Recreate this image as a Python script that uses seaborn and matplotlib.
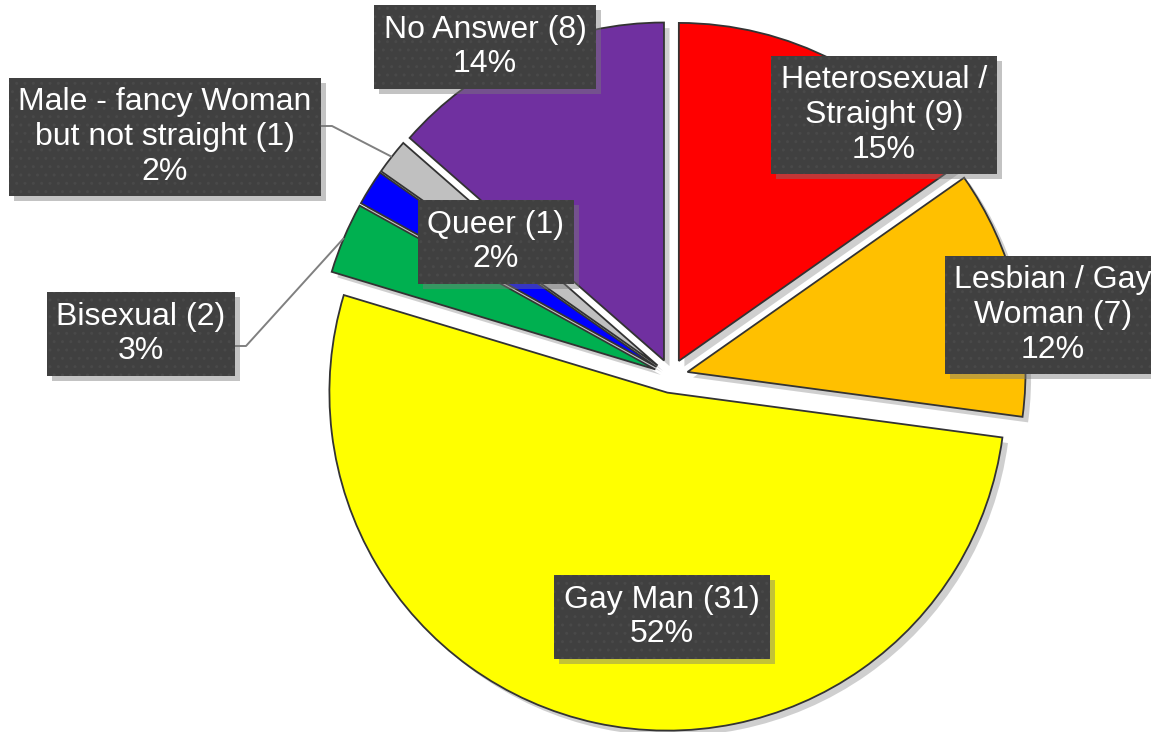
import numpy as np
import matplotlib
matplotlib.use("Agg")
import matplotlib.pyplot as plt
import matplotlib.patheffects as pe
from matplotlib.patches import Rectangle
import seaborn as sns

# ── Data ──────────────────────────────────────────────────────────────────────
categories = [
    "Heterosexual /\nStraight",
    "Lesbian / Gay\nWoman",
    "Gay Man",
    "Bisexual",
    "Queer",
    "Male - fancy Woman\nbut not straight",
    "No Answer",
]
counts = [9, 7, 31, 2, 1, 1, 8]
pct_labels = ["15%", "12%", "52%", "3%", "2%", "2%", "14%"]
colors = ["#FF0000", "#FFC000", "#FFFF00", "#00B050", "#0000FF", "#C0C0C0", "#7030A0"]

# ── Layout (pixel coords, y down) ─────────────────────────────────────────────
W, H = 1151, 732
label_xy = [(884, 115), (1053, 315), (662, 617), (141, 334), (496, 242), (165, 137), (485, 47)]
leader_idx = [3, 5]  # labels placed outside with a connector line

sns.set_theme(style="white")
plt.rcParams["font.family"] = ["Liberation Sans", "DejaVu Sans"]

fig = plt.figure(figsize=(W / 100, H / 100), dpi=100)
ax = fig.add_axes([0, 0, 1, 1])

center = (671, H - 376)
radius = 338

# explode is in data units here (pixels)
wedges, _ = ax.pie(
    counts, colors=colors, startangle=90, counterclock=False,
    explode=[17] * len(counts), radius=radius, center=center,
    wedgeprops=dict(edgecolor="#333333", linewidth=1.3),
)
for w in wedges:
    w.set_path_effects([
        pe.SimplePatchShadow(offset=(4, -4), shadow_rgbFace="#888888", alpha=0.4),
        pe.Normal(),
    ])

ax.set_xlim(0, W)
ax.set_ylim(0, H)
ax.set_aspect("equal")
ax.axis("off")

# leader lines to the outer arc of small slices
for i in leader_idx:
    w = wedges[i]
    mid = np.deg2rad((w.theta1 + w.theta2) / 2)
    ex = w.center[0] + w.r * np.cos(mid)
    ey = w.center[1] + w.r * np.sin(mid)
    lx, ly = label_xy[i]
    half_w = {3: 93, 5: 155}[i]
    sx = lx + half_w
    sy = H - ly + (-12 if i == 3 else 11)
    ax.plot([sx, sx + 12, ex], [sy, sy, ey], color="#808080", lw=1.4, zorder=2,
            solid_capstyle="butt")

texts = []
for i, (cat, pct) in enumerate(zip(categories, pct_labels)):
    lx, ly = label_xy[i]
    t = ax.text(
        lx, H - ly, f"{cat} ({counts[i]})\n{pct}", ha="center", va="center",
        multialignment="center", fontsize=23, linespacing=1.2, color="white",
        zorder=5,
        bbox=dict(boxstyle="square,pad=0.3", facecolor="#404040",
                  edgecolor="#494949", linewidth=0.0, hatch=".."),
    )
    texts.append(t)

# drop shadows behind the label boxes
fig.canvas.draw()
renderer = fig.canvas.get_renderer()
inv = ax.transData.inverted()
for t in texts:
    bb = t.get_bbox_patch().get_window_extent(renderer)
    (x0, y0), (x1, y1) = inv.transform([[bb.x0, bb.y0], [bb.x1, bb.y1]])
    ax.add_patch(Rectangle((x0 + 5, y0 - 5), x1 - x0, y1 - y0,
                           facecolor="#7a7a7a", edgecolor="none", alpha=0.45,
                           zorder=4))

fig.savefig("out.png", dpi=100, facecolor="white")
